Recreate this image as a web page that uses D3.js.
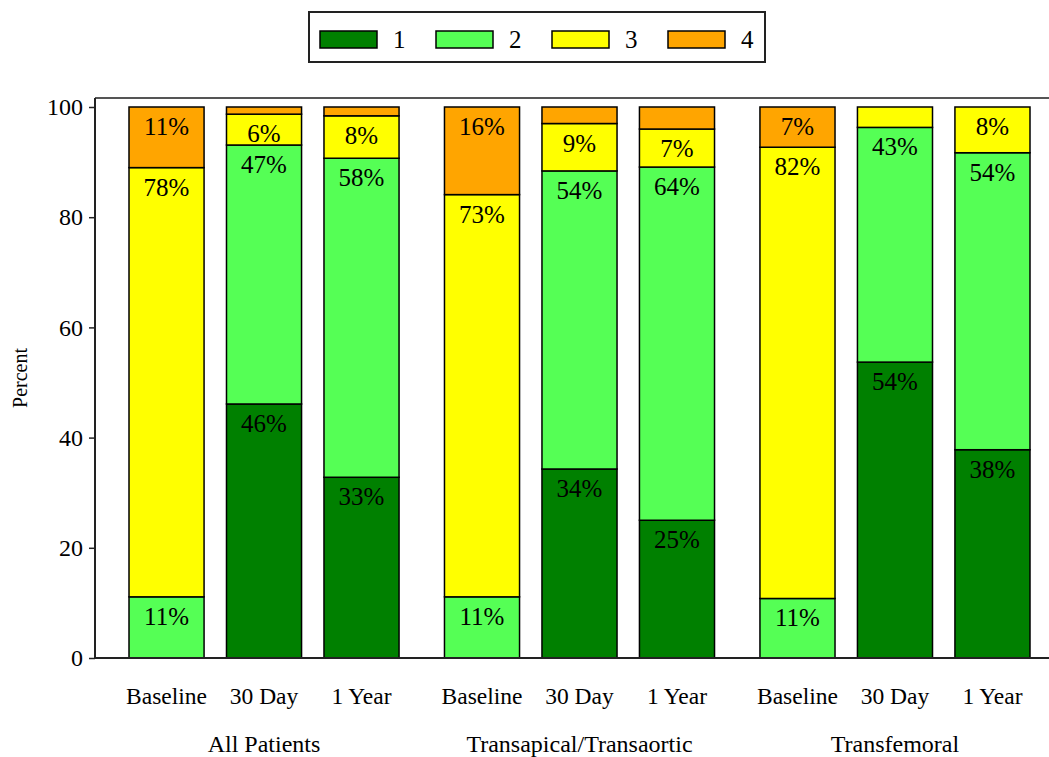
<!DOCTYPE html>
<html lang="en">
<head>
    <meta charset="UTF-8">
    <title>Percent by group and visit</title>
    <script src="https://cdnjs.cloudflare.com/ajax/libs/d3/7.8.5/d3.min.js"></script>
    <style>
        body { margin: 0; background: white; }
        svg { display: block; font-family: "Liberation Serif", "Times New Roman", serif; }
        .seg { stroke: #000; stroke-width: 1.5px; }
    </style>
</head>
<body>
<svg id="chart" width="1049" height="757"></svg>
<script>
    // categories
    const groups = ["All Patients", "Transapical/Transaortic", "Transfemoral"];
    const times = ["Baseline", "30 Day", "1 Year"];
    const classes = ["1", "2", "3", "4"];
    const colors = ["#008000", "#55ff55", "#ffff00", "#ffa500"];
    const yTicks = [0, 20, 40, 60, 80, 100];

    // percent per class (1..4), one row per bar
    const allPatients = [
        [0, 11.1, 77.9, 11.0],
        [46.1, 47.0, 5.6, 1.3],
        [32.8, 57.9, 7.7, 1.6]
    ];
    const transapical = [
        [0, 11.1, 73.0, 15.9],
        [34.3, 54.1, 8.6, 3.0],
        [25.0, 64.1, 6.9, 4.0]
    ];
    const transfemoral = [
        [0, 10.8, 81.9, 7.3],
        [53.7, 42.6, 3.7, 0],
        [37.8, 53.9, 8.3, 0]
    ];
    const groupValues = [allPatients, transapical, transfemoral];

    const svg = d3.select("#chart");

    const x0 = d3.scaleBand().domain(groups).range([129, 1030]).paddingInner(0.144);
    const x1 = d3.scaleBand().domain(times).range([0, x0.bandwidth()]).paddingInner(0.23);
    const y = d3.scaleLinear().domain([0, 100]).range([658, 107]);
    const color = d3.scaleOrdinal().domain(classes).range(colors);

    // flatten into bars
    const bars = [];
    groups.forEach((g, gi) => {
        times.forEach((t, ti) => {
            const row = {group: g, time: t};
            classes.forEach((c, ci) => row[c] = groupValues[gi][ti][ci]);
            bars.push(row);
        });
    });

    const series = d3.stack().keys(classes)(bars);

    const layer = svg.append("g");
    series.forEach(s => {
        s.forEach(d => {
            const v = d[1] - d[0];
            if (v <= 0) return;
            const bx = x0(d.data.group) + x1(d.data.time);
            layer.append("rect")
                .attr("class", "seg")
                .attr("x", bx)
                .attr("width", x1.bandwidth())
                .attr("y", y(d[1]))
                .attr("height", y(d[0]) - y(d[1]))
                .attr("fill", color(s.key));
            // only the bigger segments get a label
            if (v >= 5) {
                layer.append("text")
                    .attr("x", bx + x1.bandwidth() / 2)
                    .attr("y", y(d[1]) + 28)
                    .attr("text-anchor", "middle")
                    .style("font-size", "25px")
                    .text(Math.round(v) + "%");
            }
        });
    });

    // frame
    svg.append("line").attr("x1", 95).attr("x2", 1049).attr("y1", 98).attr("y2", 98)
        .attr("stroke", "#555").attr("stroke-width", 2);
    svg.append("line").attr("x1", 95).attr("x2", 1049).attr("y1", 658).attr("y2", 658)
        .attr("stroke", "#222").attr("stroke-width", 2);

    // y axis
    const yAxis = svg.append("g")
        .attr("transform", "translate(95,0)")
        .call(d3.axisLeft(y).tickValues(yTicks).tickSize(6).tickPadding(6));
    yAxis.select(".domain").remove();
    yAxis.append("line").attr("x1", 0).attr("x2", 0).attr("y1", 98).attr("y2", 658)
        .attr("stroke", "#222").attr("stroke-width", 2);
    yAxis.selectAll(".tick line").attr("stroke", "#222").attr("stroke-width", 1.5);
    yAxis.selectAll(".tick text")
        .style("font-family", "Liberation Serif, serif")
        .style("font-size", "24px")
        .attr("fill", "#000");

    svg.append("text")
        .attr("transform", "translate(27,378) rotate(-90)")
        .attr("text-anchor", "middle")
        .style("font-size", "20px")
        .text("Percent");

    // x labels
    groups.forEach(g => {
        times.forEach(t => {
            svg.append("text")
                .attr("x", x0(g) + x1(t) + x1.bandwidth() / 2)
                .attr("y", 704)
                .attr("text-anchor", "middle")
                .style("font-size", "23.5px")
                .text(t);
        });
        svg.append("text")
            .attr("x", x0(g) + x0.bandwidth() / 2)
            .attr("y", 752)
            .attr("text-anchor", "middle")
            .style("font-size", "24px")
            .text(g);
    });

    // legend
    const legend = svg.append("g");
    legend.append("rect").attr("x", 309).attr("y", 12).attr("width", 456).attr("height", 50)
        .attr("fill", "white").attr("stroke", "#222").attr("stroke-width", 2);
    classes.forEach((c, i) => {
        const lx = 320 + i * 116;
        legend.append("rect").attr("class", "seg")
            .attr("x", lx).attr("y", 31).attr("width", 57).attr("height", 17)
            .attr("fill", color(c));
        legend.append("text")
            .attr("x", lx + 73).attr("y", 48)
            .style("font-size", "25px")
            .text(c);
    });
</script>
</body>
</html>
